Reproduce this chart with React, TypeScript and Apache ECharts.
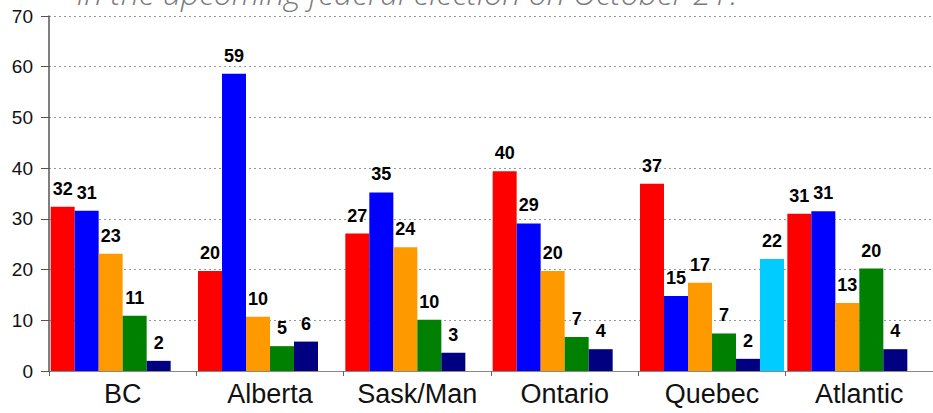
import React, { useEffect, useRef } from "react";
import * as echarts from "echarts";

const regions = ["BC", "Alberta", "Sask/Man", "Ontario", "Quebec", "Atlantic"];
const seriesNames = ["Liberal", "Conservative", "NDP", "Green", "Other", "Bloc"];
const seriesColors = ["#FF0000", "#0000FF", "#FF9900", "#008000", "#000080", "#00CCFF"];

const liberal = [32.4, 19.7, 27.1, 39.4, 36.9, 31.0];
const conservative = [31.6, 58.6, 35.2, 29.1, 14.8, 31.5];
const ndp = [23.1, 10.7, 24.4, 19.7, 17.4, 13.4];
const green = [10.9, 4.9, 10.1, 6.7, 7.4, 20.2];
const other = [2.0, 5.8, 3.6, 4.3, 2.4, 4.3];
const bloc = [null, null, null, null, 22.1, null];

const liberalLabels = [32, 20, 27, 40, 37, 31];
const conservativeLabels = [31, 59, 35, 29, 15, 31];
const ndpLabels = [23, 10, 24, 20, 17, 13];
const greenLabels = [11, 5, 10, 7, 7, 20];
const otherLabels = [2, 6, 3, 4, 2, 4];
const blocLabels = [null, null, null, null, 22, null];

const yTicks = { min: 0, max: 70, interval: 10 };
const titleText = "in the upcoming federal election on October 21?";

const allValues = [liberal, conservative, ndp, green, other, bloc];
const allLabels = [liberalLabels, conservativeLabels, ndpLabels, greenLabels, otherLabels, blocLabels];

export default function App() {
  const ref = useRef<HTMLDivElement>(null);
  useEffect(() => {
    if (!ref.current) return;
    const chart = echarts.init(ref.current, undefined, { renderer: "svg" });
    const font = "'Liberation Sans', Arial, sans-serif";
    chart.setOption({
      animation: false,
      backgroundColor: "#ffffff",
      grid: { left: 49, top: 16, bottom: 42, width: 888 },
      graphic: [
        {
          type: "text",
          left: 77,
          top: -24,
          style: {
            text: titleText,
            fontSize: 32,
            fontStyle: "italic",
            fontWeight: 300,
            fontFamily: "'Open Sans', 'DejaVu Sans', sans-serif",
            fill: "#7a7a7a",
          },
          z: 10,
        },
      ],
      xAxis: {
        type: "category",
        data: regions,
        axisLine: { show: true, lineStyle: { color: "#888888", width: 1 } },
        axisTick: { show: true, length: 5, lineStyle: { color: "#666666" } },
        axisLabel: { interval: 0, fontSize: 27, color: "#111111", fontFamily: font, margin: 9 },
      },
      yAxis: {
        type: "value",
        min: yTicks.min,
        max: yTicks.max,
        interval: yTicks.interval,
        axisLine: { show: true, lineStyle: { color: "#555555", width: 1.5 } },
        axisTick: { show: true, length: 8, lineStyle: { color: "#555555" } },
        axisLabel: { fontSize: 19, color: "#111111", fontFamily: font, margin: 16 },
        splitLine: { show: true, lineStyle: { color: "#999999", type: [2, 3], width: 1 } },
      },
      series: seriesNames.map((name, si) => ({
        name,
        type: "bar",
        data: allValues[si],
        barWidth: 24,
        barGap: "0%",
        itemStyle: { color: seriesColors[si] },
        label: {
          show: true,
          position: "top",
          distance: 9,
          fontSize: 18,
          fontWeight: "bold",
          color: "#000000",
          fontFamily: font,
          formatter: (p: any) => {
            const l = allLabels[si][p.dataIndex];
            return l == null ? "" : String(l);
          },
        },
      })),
    });
    return () => chart.dispose();
  }, []);
  return (
    <div
      ref={ref}
      style={{ position: "fixed", left: 0, top: 0, width: 933, height: 413 }}
    />
  );
}
